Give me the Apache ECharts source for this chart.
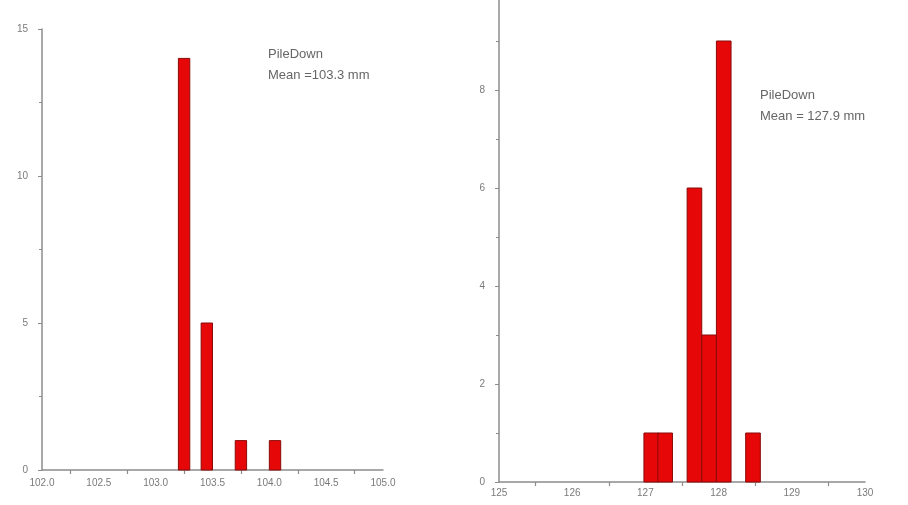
<!DOCTYPE html>
<html>
<head>
<meta charset="utf-8">
<script src="https://cdn.jsdelivr.net/npm/echarts@6/dist/echarts.min.js"></script>
<style>
html,body{margin:0;padding:0;background:#fff;}
#chart{width:908px;height:505px;}
</style>
</head>
<body>
<div id="chart"></div>
<script>
// Left histogram (bin centers in mm, counts)
var leftCenters = [103.25, 103.45, 103.75, 104.05];
var leftCounts = [14, 5, 1, 1];
var leftBinWidth = 0.1;
var leftXTicks = ['102.0', '102.5', '103.0', '103.5', '104.0', '104.5', '105.0'];
var leftYTicks = [0, 5, 10, 15];
var leftTitle = 'PileDown';
var leftMean = 'Mean =103.3 mm';

// Right histogram
var rightCenters = [127.08, 127.27, 127.67, 127.87, 128.07, 128.47];
var rightCounts = [1, 1, 6, 3, 9, 1];
var rightBinWidth = 0.2;
var rightXTicks = ['125', '126', '127', '128', '129', '130'];
var rightYTicks = [0, 2, 4, 6, 8];
var rightTitle = 'PileDown';
var rightMean = 'Mean = 127.9 mm';

function zip(a, b) { return a.map(function (v, i) { return [v, b[i]]; }); }

function makeRender(w) {
  return function (params, api) {
    var c = api.value(0), v = api.value(1);
    var p0 = api.coord([c - w / 2, v]);
    var p1 = api.coord([c + w / 2, 0]);
    return {
      type: 'rect',
      shape: { x: p0[0], y: p0[1], width: p1[0] - p0[0], height: p1[1] - p0[1] },
      style: { fill: '#e60808', stroke: '#8a0a0a', lineWidth: 1 }
    };
  };
}

var axisColor = '#8c8c8c';
var labelStyle = { color: '#7a7a7a', fontSize: 10, fontFamily: 'Liberation Sans' };

var chart = echarts.init(document.getElementById('chart'));
chart.setOption({
  animation: false,
  backgroundColor: '#ffffff',
  grid: [
    { left: 42, top: 29, width: 341, bottom: 35, outerBoundsMode: 'none', containLabel: false },
    { left: 499, top: -8, width: 366, bottom: 23, outerBoundsMode: 'none', containLabel: false }
  ],
  xAxis: [
    {
      gridIndex: 0, type: 'value', min: 102, max: 105, interval: 0.5,
      axisLine: { lineStyle: { color: axisColor, width: 1.5 } },
      axisTick: { show: false },
      minorTick: { show: true, splitNumber: 2, length: 4, lineStyle: { color: axisColor, width: 1.2 } },
      splitLine: { show: false }, minorSplitLine: { show: false },
      axisLabel: Object.assign({ margin: 8, formatter: function (v) {
        var i = Math.round((v - 102) / 0.5); return leftXTicks[i] || '';
      } }, labelStyle)
    },
    {
      gridIndex: 1, type: 'value', min: 125, max: 130, interval: 1,
      axisLine: { lineStyle: { color: axisColor, width: 1.5 } },
      axisTick: { show: false },
      minorTick: { show: true, splitNumber: 2, length: 4, lineStyle: { color: axisColor, width: 1.2 } },
      splitLine: { show: false }, minorSplitLine: { show: false },
      axisLabel: Object.assign({ margin: 6, formatter: function (v) {
        var i = Math.round(v - 125); return rightXTicks[i] || '';
      } }, labelStyle)
    }
  ],
  yAxis: [
    {
      gridIndex: 0, type: 'value', min: 0, max: 15, interval: 5,
      axisLine: { show: true, lineStyle: { color: axisColor, width: 1.5 } },
      axisTick: { show: true, length: 4, lineStyle: { color: axisColor } },
      minorTick: { show: true, splitNumber: 2, length: 3, lineStyle: { color: axisColor } },
      splitLine: { show: false }, minorSplitLine: { show: false },
      axisLabel: Object.assign({ margin: 14, formatter: function (v) {
        return leftYTicks.indexOf(v) >= 0 ? String(v) : '';
      } }, labelStyle)
    },
    {
      gridIndex: 1, type: 'value', min: 0, max: 10, interval: 2,
      axisLine: { show: true, lineStyle: { color: axisColor, width: 1.5 } },
      axisTick: { show: true, length: 4, lineStyle: { color: axisColor } },
      minorTick: { show: true, splitNumber: 2, length: 3, lineStyle: { color: axisColor } },
      splitLine: { show: false }, minorSplitLine: { show: false },
      axisLabel: Object.assign({ margin: 14, showMaxLabel: false, formatter: function (v) {
        return rightYTicks.indexOf(v) >= 0 ? String(v) : '';
      } }, labelStyle)
    }
  ],
  series: [
    {
      type: 'custom', xAxisIndex: 0, yAxisIndex: 0,
      renderItem: makeRender(leftBinWidth),
      encode: { x: 0, y: 1 },
      data: zip(leftCenters, leftCounts)
    },
    {
      type: 'custom', xAxisIndex: 1, yAxisIndex: 1,
      renderItem: makeRender(rightBinWidth),
      encode: { x: 0, y: 1 },
      data: zip(rightCenters, rightCounts)
    }
  ],
  graphic: [
    { type: 'text', left: 268, top: 48, style: { text: leftTitle, fill: '#666', font: '13px "Liberation Sans"' } },
    { type: 'text', left: 268, top: 69, style: { text: leftMean, fill: '#666', font: '13px "Liberation Sans"' } },
    { type: 'text', left: 760, top: 89, style: { text: rightTitle, fill: '#666', font: '13px "Liberation Sans"' } },
    { type: 'text', left: 760, top: 110, style: { text: rightMean, fill: '#666', font: '13px "Liberation Sans"' } }
  ]
});
</script>
</body>
</html>
